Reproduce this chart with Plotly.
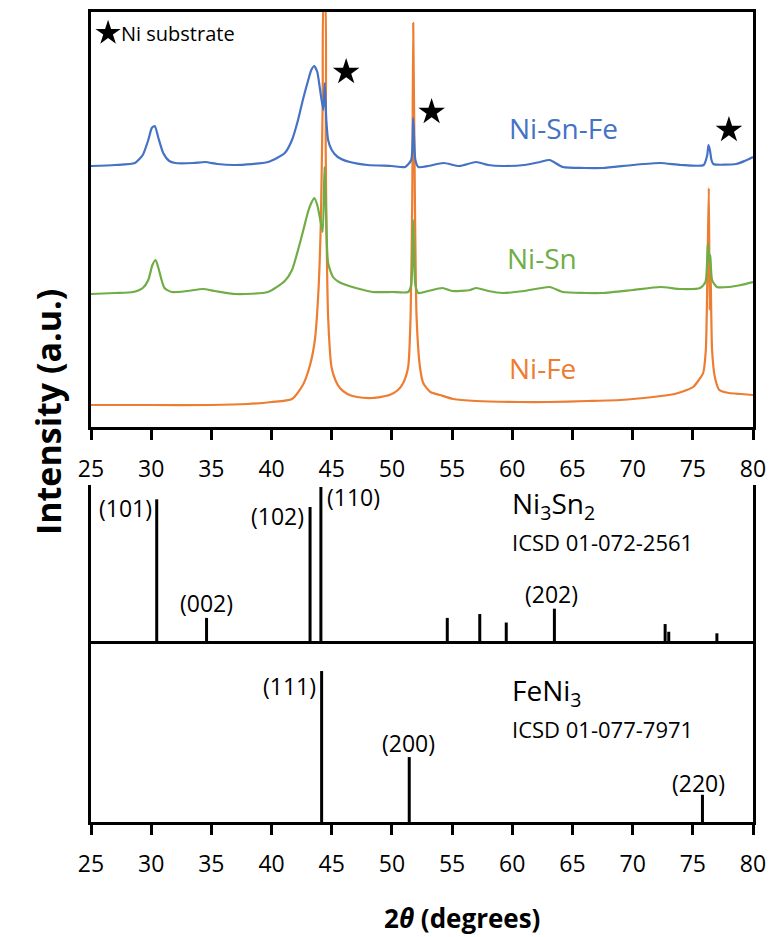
import plotly.graph_objects as go

# ---------------- data ----------------
# Ni-Sn-Fe pattern (blue), 2theta (deg) and intensity (a.u., offset)
tt_nsf = [25.0, 27, 28.65, 29.3, 29.76, 30.05, 30.3, 30.6, 31.0, 31.5, 32, 33.5, 34.5, 35.5, 37, 39.7,
          41.1, 41.7, 42.2, 42.6, 43.05, 43.3, 43.55, 43.8, 44.0, 44.3, 44.42, 44.55, 44.7, 45.0, 45.5,
          46.5, 48, 50, 51.1, 51.6, 51.77, 51.95, 52.2, 53, 54.3, 55.6, 57.0, 58, 59.2, 61, 62.3, 63.1,
          64.2, 66, 67.5, 70, 72.3, 74, 75.9, 76.2, 76.3, 76.42, 76.55, 76.7, 78.6, 79.3, 80]
int_nsf = [261, 262, 264, 272, 287, 299, 301, 289, 274, 266, 264, 264, 265, 263, 262, 265,
           274, 287, 307, 327, 347, 357, 361, 355, 340, 317, 344, 307, 287, 277, 270,
           265, 262, 261, 260, 267, 309, 267, 260, 261, 264, 261, 265, 262, 261, 262, 265, 267,
           260, 259, 259, 262, 264, 262, 262, 272, 282, 277, 267, 263, 263, 266, 270]

# Ni-Sn pattern (green)
tt_ns = [25.0, 27, 28.5, 29.3, 29.76, 30.1, 30.37, 30.6, 31.1, 31.7, 33, 34.3, 35.3, 37, 39.7,
         41.1, 41.7, 42.2, 42.6, 43.05, 43.3, 43.55, 43.8, 44.05, 44.25, 44.4, 44.5, 44.7, 45.1, 45.6,
         46.2, 47, 48.4, 50, 51.35, 51.6, 51.77, 51.95, 52.2, 53, 54.2, 55, 56.5, 57.0, 58, 59.2, 61,
         63.1, 64.2, 66, 67.5, 70, 72.3, 74, 75.6, 76.05, 76.25, 76.38, 76.45, 76.6, 77, 78, 79, 80]
int_ns = [133, 134, 135, 139, 147, 162, 167, 159, 139, 135, 136, 138, 136, 133, 135,
          146, 157, 177, 195, 216, 224, 229, 222, 207, 195, 260, 227, 164, 150, 145,
          142, 139, 135, 135, 135, 142, 207, 142, 134, 136, 139, 136, 137, 139, 136, 134, 136,
          140, 135, 134, 134, 137, 140, 138, 139, 145, 184, 165, 172, 147, 140, 140, 142, 145]

# Ni-Fe pattern (orange)
tt_nf = [25.0, 30, 35, 38, 40, 41.7, 42.6, 43.2, 43.6, 43.9, 44.1, 44.25, 44.35, 44.43, 44.5, 44.57,
         44.7, 44.98, 45.3, 45.68, 46.3, 47.1, 48.4, 49.8, 50.5, 50.94, 51.35, 51.55, 51.69, 51.77,
         51.91, 52.05, 52.33, 52.6, 53.2, 54.0, 55.1, 57, 60.6, 63, 66.2, 69, 71.7, 73.5, 74.5, 75.03,
         75.5, 75.86, 76.08, 76.22, 76.33, 76.4, 76.47, 76.6, 76.83, 77.2, 78.0, 79, 80]
int_nf = [22, 22, 22, 23, 25, 28, 42, 62, 87, 137, 207, 327, 427, 427, 277, 194,
          110, 60, 47, 39, 33, 30, 29, 32, 37, 44, 60, 110, 227, 404,
          227, 110, 60, 44, 35, 32, 28, 26, 25, 25, 26, 27, 30, 33, 37, 40,
          47, 54, 77, 160, 239, 117, 160, 77, 50, 37, 34, 33, 32]

# Ni substrate reflections (star markers)
star_tt = [46.2, 53.3, 78.0]
star_int = [355, 315, 297]

# Ni3Sn2 reference, ICSD 01-072-2561
nisn_pos = [30.46, 34.6, 43.2, 44.1, 54.6, 57.3, 59.5, 63.5, 72.7, 73.0, 77.0]
nisn_int = [92, 15, 87, 100, 15, 17.5, 12, 21, 11, 6, 5]
nisn_hkl = {30.46: "(101)", 34.6: "(002)", 43.2: "(102)", 44.1: "(110)", 63.5: "(202)"}

# FeNi3 reference, ICSD 01-077-7971
feni_pos = [44.16, 51.44, 75.8]
feni_int = [100, 43, 18]
feni_hkl = ["(111)", "(200)", "(220)"]

x_ticks = [25, 30, 35, 40, 45, 50, 55, 60, 65, 70, 75, 80]

BLUE, GREEN, ORANGE = "#4472C4", "#70AD47", "#ED7D31"
FONT = "Open Sans"

# ---------------- geometry helpers ----------------
W, H = 770, 937
L, R, T, B = 91, 753, 12, 822


def px(xp):
    return (xp - L) / (R - L)


def py(yp):
    return (B - yp) / (B - T)


def sticks(pos, hts):
    xs, ys = [], []
    for p, h in zip(pos, hts):
        xs += [p, p, None]
        ys += [0, h, None]
    return xs, ys


fig = go.Figure()

curve_line = dict(width=2.2, shape="spline", smoothing=0.6)
# top panel curves
fig.add_trace(go.Scatter(x=tt_nf, y=int_nf, mode="lines", line=dict(color=ORANGE, **curve_line),
                         xaxis="x", yaxis="y", showlegend=False))
fig.add_trace(go.Scatter(x=tt_ns, y=int_ns, mode="lines", line=dict(color=GREEN, **curve_line),
                         xaxis="x", yaxis="y", showlegend=False))
fig.add_trace(go.Scatter(x=tt_nsf, y=int_nsf, mode="lines", line=dict(color=BLUE, **curve_line),
                         xaxis="x", yaxis="y", showlegend=False))
fig.add_trace(go.Scatter(x=star_tt, y=star_int, mode="markers",
                         marker=dict(symbol="star", size=20, color="black"),
                         xaxis="x", yaxis="y", showlegend=False))
# legend-like star for "Ni substrate" note
fig.add_trace(go.Scatter(x=[26.42], y=[394], mode="markers",
                         marker=dict(symbol="star", size=19, color="black"),
                         xaxis="x", yaxis="y", showlegend=False))

# stick patterns
sx, sy = sticks(nisn_pos, nisn_int)
fig.add_trace(go.Scatter(x=sx, y=sy, mode="lines", line=dict(color="black", width=3),
                         xaxis="x2", yaxis="y2", showlegend=False))
fx, fy = sticks(feni_pos, feni_int)
fig.add_trace(go.Scatter(x=fx, y=fy, mode="lines", line=dict(color="black", width=3),
                         xaxis="x3", yaxis="y3", showlegend=False))

axis_common = dict(range=[25, 80], showgrid=False, zeroline=False, linecolor="black", linewidth=2.5,
                   automargin=False)
yaxis_common = dict(showline=True, mirror=True, linecolor="black", linewidth=2.5,
                    showticklabels=False, ticks="", showgrid=False, zeroline=False, automargin=False)

fig.update_layout(
    width=W, height=H,
    margin=dict(l=L, r=W - R, t=T, b=H - B, autoexpand=False),
    paper_bgcolor="white", plot_bgcolor="white",
    font=dict(family=FONT, color="black", size=22),
    xaxis=dict(**axis_common, anchor="y", showline=True, mirror=True,
               ticks="outside", ticklen=10, tickwidth=2.5, tickcolor="black",
               tickvals=x_ticks, ticktext=[str(t) for t in x_ticks],
               tickfont=dict(size=23), ticklabelstandoff=10),
    yaxis=dict(domain=[py(427), 1], range=[0, 415], **yaxis_common),
    xaxis2=dict(**axis_common, anchor="y2", showline=True, mirror=False,
                showticklabels=False, ticks=""),
    yaxis2=dict(domain=[py(641), py(485)], range=[0, 101.3], **yaxis_common),
    xaxis3=dict(**axis_common, anchor="y3", showline=True, mirror=False,
                ticks="outside", ticklen=10, tickwidth=2.5, tickcolor="black",
                tickvals=x_ticks, ticktext=[str(t) for t in x_ticks],
                tickfont=dict(size=23), ticklabelstandoff=10),
    yaxis3=dict(domain=[0, py(641)], range=[0, 119.9], **yaxis_common),
)

ann = []


def add_px(text, xp, yp, size=22, color="black", xanchor="center", yanchor="middle", angle=0):
    ann.append(dict(text=text, x=px(xp), y=py(yp), xref="paper", yref="paper", showarrow=False,
                    xanchor=xanchor, yanchor=yanchor, textangle=angle,
                    font=dict(size=size, color=color, family=FONT)))


# top panel labels
add_px("Ni-Sn-Fe", 563, 128, size=28, color=BLUE)
add_px("Ni-Sn", 542, 258, size=28, color=GREEN)
add_px("Ni-Fe", 542, 368, size=28, color=ORANGE)
add_px("Ni substrate", 119, 34, size=20, xanchor="left")

# reference pattern titles
add_px("Ni<sub>3</sub>Sn<sub>2</sub>", 510, 505, size=28, xanchor="left")
add_px("ICSD 01-072-2561", 510, 542, size=22, xanchor="left")
add_px("FeNi<sub>3</sub>", 510, 692, size=28, xanchor="left")
add_px("ICSD 01-077-7971", 510, 729, size=22, xanchor="left")

# hkl labels anchored to sticks
hkl_style = {
    "(101)": dict(xanchor="right", yanchor="top", xshift=-3, yshift=9),
    "(002)": dict(xanchor="center", yanchor="bottom", xshift=0, yshift=-3),
    "(102)": dict(xanchor="right", yanchor="top", xshift=-4, yshift=9),
    "(110)": dict(xanchor="left", yanchor="top", xshift=4, yshift=8),
    "(202)": dict(xanchor="center", yanchor="bottom", xshift=-3, yshift=-3),
}
for p, h in zip(nisn_pos, nisn_int):
    if p in nisn_hkl:
        lab = nisn_hkl[p]
        ann.append(dict(text=lab, x=p, y=h, xref="x2", yref="y2", showarrow=False,
                        font=dict(size=23, family=FONT, color="black"), **hkl_style[lab]))

feni_style = [
    dict(xanchor="right", yanchor="top", xshift=-4, yshift=3),
    dict(xanchor="center", yanchor="bottom", xshift=-1, yshift=-4),
    dict(xanchor="center", yanchor="bottom", xshift=-4, yshift=-6),
]
for p, h, lab, st in zip(feni_pos, feni_int, feni_hkl, feni_style):
    ann.append(dict(text=lab, x=p, y=h, xref="x3", yref="y3", showarrow=False,
                    font=dict(size=23, family=FONT, color="black"), **st))

# axis titles
add_px("<b>Intensity (a.u.)</b>", 48, 412, size=34, angle=-90)
add_px("<b>2<i>θ</i> (degrees)</b>", 462, 918, size=26)

fig.update_layout(annotations=ann)

fig.write_html("out.html")
